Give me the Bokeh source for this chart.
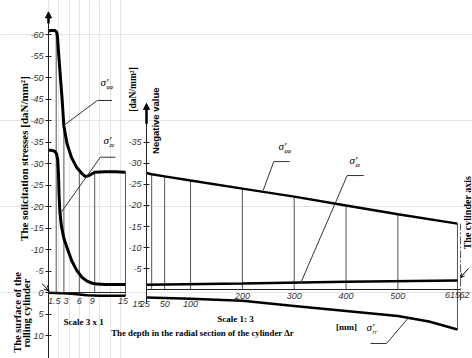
from math import pi
from bokeh.plotting import figure
from bokeh.models import Range1d, LinearAxis, FixedTicker, Arrow, NormalHead, OpenHead
from bokeh.core.properties import value
from bokeh.embed import file_html
from bokeh.resources import INLINE

# ---------------- data ----------------
# Left panel (Scale 3 x 1): depth in mm, stresses in daN/mm^2 (negative values drawn upward)
left_depth_phi = [0.0, 0.3, 1.2, 1.6, 1.75, 2.0, 2.3, 2.67, 2.98, 3.6, 4.5, 5.5, 6.5, 7.2, 8.0, 9.0, 11.0, 13.0, 15.0]
left_sigma_phi = [-60.7, -61.0, -61.0, -60.6, -59.6, -55.2, -50.5, -44.7, -38.9, -34.7, -31.4, -29.1, -27.7, -27.0, -27.3, -28.0, -28.1, -28.1, -28.0]
left_depth_zz = [0.0, 0.6, 1.2, 1.55, 1.8, 1.95, 2.05, 2.2, 2.5, 3.0, 3.6, 4.5, 5.5, 6.5, 7.5, 8.5, 9.5, 11.0, 13.0, 15.0]
left_sigma_zz = [-33.1, -33.1, -32.9, -32.3, -30.9, -27.5, -23.0, -19.1, -15.6, -12.6, -10.5, -7.5, -5.2, -3.6, -2.7, -2.2, -2.0, -1.9, -1.9, -1.9]
left_depth_rr = [0.0, 4.0, 7.5, 10.0, 15.0]
left_sigma_rr = [0.0, 0.2, 0.6, 0.7, 0.7]
left_ord_depth = [1.5, 3, 6, 9, 15]
left_ord_top = [-61.0, -38.9, -27.9, -28.0, -28.0]
left_ord_bottom = [0, 0, 0, 0, 0.7]
left_xtick_pos = [1.5, 3, 6, 9, 15]
left_xtick_labels = ["1.5", "3", "6", "9", "15"]
left_xtick_dx = [-2, 2, 0, -2.5, -2.5]
left_yticks = [-60, -55, -50, -45, -40, -35, -30, -25, -20, -15, -10, -5, 0, 5, 10]
left_ytick_labels = ["-60", "-55", "-50", "-45", "-40", "-35", "-30", "-25", "-20", "-15", "-10", "-5", "0", "5", "10"]

# Right panel (Scale 1:3): depth in mm
right_depth_phi = [15, 25, 50, 100, 200, 300, 400, 500, 615]
right_sigma_phi = [-27.7, -27.4, -26.9, -25.9, -24.0, -22.1, -20.0, -17.9, -15.7]
right_depth_zz = [15, 200, 400, 615]
right_sigma_zz = [-1.2, -1.5, -1.9, -2.2]
right_depth_rr = [15, 100, 200, 300, 400, 500, 560, 615]
right_sigma_rr = [1.8, 2.1, 2.6, 3.8, 5.0, 6.2, 7.5, 9.4]
right_ord_depth = [25, 50, 100, 200, 300, 400, 500, 615]
right_ord_top = [-27.4, -26.9, -25.9, -24.0, -22.1, -20.0, -17.9, -15.7]
right_ord_bottom = [0, 0, 0, 0, 0, 0, 0, 9.4]
right_xtick_pos = [15, 25, 50, 100, 200, 300, 400, 500, 615, 621]
right_xtick_labels = ["15", "25", "50", "100", "200", "300", "400", "500", "615", "62"]
right_xtick_dx = [-9, -7, 0, 0, 0, 0, 0, 0, -5, 4]
right_xtick_dy = [14, 14, 14, 14, 6, 6, 6, 6, 5, 5]
right_yticks = [-35, -30, -25, -20, -15, -10, -5]
right_ytick_labels = ["-35", "-30", "-25", "-20", "-15", "-10", "-5"]
cylinder_axis_depth = 621

# leader lines and curve labels
left_leader_x = [[12.4, 9.5, 2.98], [13.05, 10.1, 2.47]]
left_leader_y = [[-44.7, -44.7, -38.9], [-31.5, -31.5, -18.7]]
left_lab_x = [10.9, 11.5]
left_lab_y = [-49.0, -35.4]
left_lab_sub = ["φφ", "zz"]
right_leader_x = [[291.5, 260.6, 240.2], [434.3, 402.2, 312.1], [447.2, 478.1, 521.1]]
right_leader_y = [[-30.4, -30.4, -23.6], [-27.1, -27.1, -1.5], [12.7, 12.7, 6.5]]
right_lab_x = [277.4, 414.4, 447.2]
right_lab_y = [-34.0, -30.7, 8.9]
right_lab_sub = ["φφ", "zz", "rr"]

# ---------------- figure ----------------
p = figure(width=472, height=358, min_border=0, toolbar_location=None, output_backend="svg",
           x_range=Range1d(-9.351, 82.60), y_range=Range1d(15.30, -67.95),
           x_axis_location=None, y_axis_location=None)
p.extra_x_ranges = {"rx": Range1d(-266.69, 643.99)}
p.extra_y_ranges = {"ry": Range1d(16.26, -68.58)}
p.outline_line_color = None
p.background_fill_color = "white"
p.border_fill_color = "white"

R = dict(x_range_name="rx", y_range_name="ry")
tick_font = dict(major_label_text_font="Liberation Sans", major_label_text_font_style="italic",
                 major_label_text_font_size="9px", major_label_text_color="#333333")

# left y axis
ly = LinearAxis(fixed_location=0, bounds=(-65.0, 15.3), ticker=FixedTicker(ticks=left_yticks),
                major_label_overrides={t: s for t, s in zip(left_yticks, left_ytick_labels)},
                major_tick_in=3, major_tick_out=3, minor_tick_out=0, minor_tick_in=0,
                major_label_standoff=2, axis_line_color="#222222", major_tick_line_color="#222222", **tick_font)
p.add_layout(ly, "left")
# right y axis
ry = LinearAxis(fixed_location=15, bounds=(-43.5, 3.3), ticker=FixedTicker(ticks=right_yticks),
                major_label_overrides={t: s for t, s in zip(right_yticks, right_ytick_labels)},
                major_tick_in=3, major_tick_out=3, minor_tick_out=0, minor_tick_in=0,
                major_label_standoff=2, axis_line_color="#222222", major_tick_line_color="#222222", **R, **tick_font)
p.add_layout(ry, "left")
# x axes (lines only; tick labels drawn as text below)
lx = LinearAxis(fixed_location=0, bounds=(0, 15), ticker=FixedTicker(ticks=[]),
                major_tick_in=0, major_tick_out=0, minor_tick_out=0, minor_tick_in=0,
                axis_line_color="#222222", **tick_font)
p.add_layout(lx, "below")
rx = LinearAxis(fixed_location=0, bounds=(15, cylinder_axis_depth), ticker=FixedTicker(ticks=[]),
                major_tick_in=0, major_tick_out=0, minor_tick_out=0, minor_tick_in=0,
                axis_line_color="#222222", **R, **tick_font)
p.add_layout(rx, "below")

# axis arrows
p.add_layout(Arrow(end=NormalHead(size=6, fill_color="black", line_color="black"),
                   x_start=0, y_start=-62.6, x_end=0, y_end=-65.3, line_width=2.5))
p.add_layout(Arrow(end=NormalHead(size=6, fill_color="black", line_color="black"),
                   x_start=15, y_start=-39.4, x_end=15, y_end=-44.2, line_width=2.5, **R))
# surface arrow and cylinder-axis pointer
p.add_layout(Arrow(end=OpenHead(size=5, line_width=1), x_start=-1.25, y_start=-2.1, x_end=0.1, y_end=-0.4,
                   line_width=1))
p.add_layout(Arrow(end=OpenHead(size=4, line_width=1), x_start=636.3, y_start=-5.1, x_end=620.8, y_end=-2.9,
                   line_width=1, **R))

# ordinates
p.segment(x0=left_ord_depth, y0=left_ord_bottom, x1=left_ord_depth, y1=left_ord_top,
          line_color="#555555", line_width=1)
p.segment(x0=right_ord_depth, y0=right_ord_bottom, x1=right_ord_depth, y1=right_ord_top,
          line_color="#555555", line_width=1, **R)
p.segment(x0=[cylinder_axis_depth], y0=[2.5], x1=[cylinder_axis_depth], y1=[-15.7],
          line_color="#555555", line_width=1, line_dash="8 2 2 2", **R)

# curves
p.line(left_depth_phi, left_sigma_phi, line_color="black", line_width=3)
p.line(left_depth_zz, left_sigma_zz, line_color="black", line_width=3)
p.line(left_depth_rr, left_sigma_rr, line_color="black", line_width=2.5)
p.line(right_depth_phi, right_sigma_phi, line_color="black", line_width=2.5, **R)
p.line(right_depth_zz, right_sigma_zz, line_color="black", line_width=2.5, **R)
p.line(right_depth_rr, right_sigma_rr, line_color="black", line_width=2.5, **R)

# leaders
p.multi_line(left_leader_x, left_leader_y, line_color="#333333", line_width=1)
p.multi_line(right_leader_x, right_leader_y, line_color="#333333", line_width=1, **R)

# curve labels
serif = value("Liberation Serif")
p.text(left_lab_x, left_lab_y, text=["σ′"] * len(left_lab_x), text_font=serif, text_font_style="italic",
       text_font_size="11px", text_align="center", text_baseline="middle")
p.text(left_lab_x, left_lab_y, text=left_lab_sub, text_font=serif, text_font_style="italic",
       text_font_size="6px", text_align="left", text_baseline="middle", x_offset=2, y_offset=5)
p.text(right_lab_x, right_lab_y, text=["σ′"] * len(right_lab_x), text_font=serif, text_font_style="italic",
       text_font_size="11px", text_align="center", text_baseline="middle", **R)
p.text(right_lab_x, right_lab_y, text=right_lab_sub, text_font=serif, text_font_style="italic",
       text_font_size="6px", text_align="left", text_baseline="middle", x_offset=2, y_offset=5, **R)

# x tick labels
p.text(left_xtick_pos, [0] * len(left_xtick_pos), text=left_xtick_labels, x_offset=left_xtick_dx,
       y_offset=8, text_font=value("Liberation Sans"), text_font_style="italic",
       text_font_size="9px", text_color="#333333", text_align="center", text_baseline="middle")
p.text(right_xtick_pos, [0] * len(right_xtick_pos), text=right_xtick_labels, x_offset=right_xtick_dx,
       y_offset=right_xtick_dy, text_font=value("Liberation Sans"), text_font_style="italic",
       text_font_size="9px", text_color="#333333", text_align="center", text_baseline="middle", **R)

# titles / notes
p.text([-4.87], [-31.2], text=["The solicitation stresses [daN/mm²]"], angle=pi / 2, text_font=serif,
       text_font_style="bold", text_font_size="11px", text_align="center", text_baseline="middle")
p.text([-6.04, -4.38], [4.6, 4.8], text=["The surface of the", "rolling cylinder"], angle=pi / 2,
       text_font=serif, text_font_style="bold", text_font_size="10.5px", text_align="center", text_baseline="middle")
p.text([6.82], [6.9], text=["Scale 3 x 1"], text_font=serif, text_font_style="bold", text_font_size="9px",
       text_align="center", text_baseline="middle")
p.text([186.7], [6.8], text=["Scale 1: 3"], text_font=serif, text_font_style="bold", text_font_size="9px",
       text_align="center", text_baseline="middle", **R)
p.text([123.0], [10.3], text=["The depth in the radial section of the cylinder Δr"], text_font=serif,
       text_font_style="bold", text_font_size="8.8px", text_align="center", text_baseline="middle", **R)
p.text([400.9], [8.9], text=["[mm]"], text_font=serif, text_font_style="bold", text_font_size="9px",
       text_align="center", text_baseline="middle", **R)
p.text([-10.1], [-47.5], text=["[daN/mm²]"], angle=pi / 2, text_font=serif, text_font_style="bold",
       text_font_size="9.5px", text_align="center", text_baseline="middle", **R)
p.text([32.4], [-40.1], text=["Negative value"], angle=pi / 2, text_font=value("Liberation Sans"),
       text_font_style="bold", text_font_size="9.5px", text_align="center", text_baseline="middle", **R)
p.text([634.3], [-18.3], text=["The cylinder axis"], angle=pi / 2, text_font=serif, text_font_style="bold",
       text_font_size="10px", text_align="center", text_baseline="middle", **R)

open("out.html", "w").write(file_html(p, INLINE))
